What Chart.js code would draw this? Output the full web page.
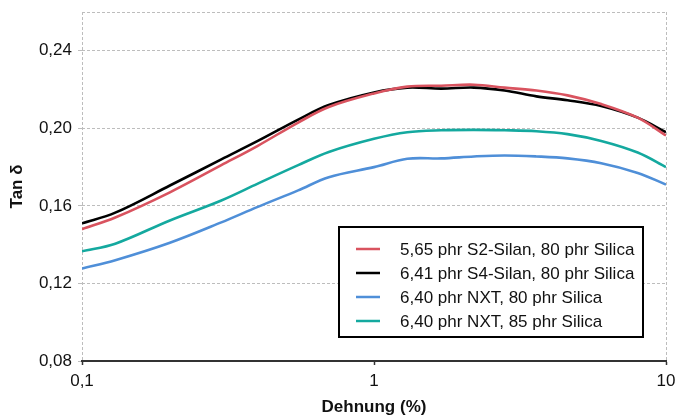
<!DOCTYPE html>
<html>
<head>
<meta charset="utf-8">
<script src="https://cdn.jsdelivr.net/npm/chart.js@4/dist/chart.umd.min.js"></script>
<style>
  html, body { margin: 0; padding: 0; background: #fff; }
  #wrap { width: 676px; height: 419px; }
</style>
</head>
<body>
<div id="wrap"><canvas id="chartCanvas" width="676" height="419"></canvas></div>
<script>
// Dehnung (%) - Messpunkte
const strain = [0.1, 0.13, 0.2, 0.3, 0.4, 0.55, 0.7, 1.0, 1.3, 1.7, 2.2, 2.8, 3.6, 4.6, 6, 8, 10];

const labels = [
    "5,65 phr S2-Silan, 80 phr Silica",
    "6,41 phr S4-Silan, 80 phr Silica",
    "6,40 phr NXT, 80 phr Silica",
    "6,40 phr NXT, 85 phr Silica"
];

const tanS2 = [0.148, 0.154, 0.167, 0.181, 0.191, 0.203, 0.211, 0.218, 0.2215, 0.222, 0.2225, 0.221, 0.2195, 0.217, 0.2125, 0.2055, 0.1963];
const tanS4 = [0.151, 0.1565, 0.1705, 0.184, 0.1935, 0.2045, 0.212, 0.2185, 0.221, 0.2205, 0.221, 0.2195, 0.2165, 0.2145, 0.2115, 0.2055, 0.198];
const tanNxt80 = [0.1277, 0.132, 0.141, 0.1515, 0.1595, 0.168, 0.1748, 0.18, 0.1843, 0.1845, 0.1855, 0.186, 0.1855, 0.1845, 0.182, 0.177, 0.171];
const tanNxt85 = [0.1366, 0.1405, 0.1525, 0.1628, 0.1715, 0.181, 0.1878, 0.1946, 0.198, 0.199, 0.1992, 0.199, 0.1985, 0.197, 0.1935, 0.1875, 0.18];

const xTicks = [0.1, 1, 10];
const yTicks = [0.08, 0.12, 0.16, 0.20, 0.24, 0.26];

const colors = ["#d9535f", "#000000", "#4f8fd8", "#14a99f"];

function toPoints(ys) {
    return ys.map((y, i) => ({ x: strain[i], y: y }));
}

const comma = v => String(v).replace(".", ",");

// Legende als Kasten innerhalb der Zeichenfläche
const boxLegend = {
    id: "boxLegend",
    afterDatasetsDraw(chart) {
        const ctx = chart.ctx;
        const x0 = 339, y0 = 227, w = 304, h = 110;
        ctx.save();
        ctx.fillStyle = "#fff";
        ctx.fillRect(x0, y0, w, h);
        ctx.lineWidth = 2;
        ctx.strokeStyle = "#000";
        ctx.strokeRect(x0, y0, w, h);
        ctx.font = "17px 'Liberation Sans', Arial, sans-serif";
        ctx.textBaseline = "middle";
        chart.data.datasets.forEach((ds, i) => {
            const y = y0 + 22 + i * 24;
            ctx.strokeStyle = ds.borderColor;
            ctx.lineWidth = 2.5;
            ctx.beginPath();
            ctx.moveTo(x0 + 17, y);
            ctx.lineTo(x0 + 41, y);
            ctx.stroke();
            ctx.fillStyle = "#111";
            ctx.fillText(ds.label, x0 + 61, y + 1);
        });
        ctx.restore();
    }
};

const ctx = document.getElementById("chartCanvas").getContext("2d");
new Chart(ctx, {
    type: "line",
    data: {
        datasets: [tanS2, tanS4, tanNxt80, tanNxt85].map((ys, i) => ({
            label: labels[i],
            data: toPoints(ys),
            borderColor: colors[i],
            borderWidth: 2.6,
            pointRadius: 0,
            tension: 0.35,
            fill: false
        }))
    },
    options: {
        responsive: false,
        animation: false,
        layout: { padding: { top: 12, right: 10, left: 0, bottom: 0 } },
        plugins: {
            legend: { display: false },
            tooltip: { enabled: false }
        },
        scales: {
            x: {
                type: "logarithmic",
                min: 0.1,
                max: 10,
                afterBuildTicks: s => { s.ticks = xTicks.map(v => ({ value: v })); },
                afterFit: s => {
                    s.height = 58;
                    s.paddingLeft = 0;
                    s.paddingRight = 0;
                },
                ticks: {
                    color: "#111",
                    padding: 6,
                    maxRotation: 0,
                    font: { family: "'Liberation Sans', Arial, sans-serif", size: 17 },
                    callback: v => comma(v)
                },
                grid: {
                    color: c => (c.tick && c.tick.value === 1) ? "rgba(0,0,0,0)" : "#bdbdbd",
                    lineWidth: 1,
                    tickColor: "#333",
                    tickLength: 4,
                    tickWidth: 1.5
                },
                border: { display: true, color: "#333", width: 2, dash: [3, 2] },
                title: {
                    display: true,
                    text: "Dehnung (%)",
                    color: "#111",
                    padding: { top: 0, bottom: 1 },
                    font: { family: "'Liberation Sans', Arial, sans-serif", size: 17, weight: "bold" }
                }
            },
            y: {
                min: 0.08,
                max: 0.26,
                afterBuildTicks: s => { s.ticks = yTicks.map(v => ({ value: v })); },
                afterFit: s => {
                    s.width = 82;
                    s.paddingTop = 0;
                    s.paddingBottom = 0;
                },
                ticks: {
                    color: "#111",
                    padding: 6,
                    font: { family: "'Liberation Sans', Arial, sans-serif", size: 17 },
                    callback: v => (v >= 0.259 ? "" : comma(v.toFixed(2)))
                },
                grid: {
                    color: "#bdbdbd",
                    lineWidth: 1,
                    tickLength: 4,
                    tickColor: c => (c.tick && c.tick.value >= 0.259) ? "rgba(0,0,0,0)" : "#bdbdbd"
                },
                border: { display: false, dash: [3, 2] },
                title: {
                    display: true,
                    text: "Tan δ",
                    color: "#111",
                    padding: { top: 7, bottom: 0 },
                    font: { family: "'Liberation Sans', Arial, sans-serif", size: 17, weight: "bold" }
                }
            }
        }
    },
    plugins: [boxLegend]
});
</script>
</body>
</html>
